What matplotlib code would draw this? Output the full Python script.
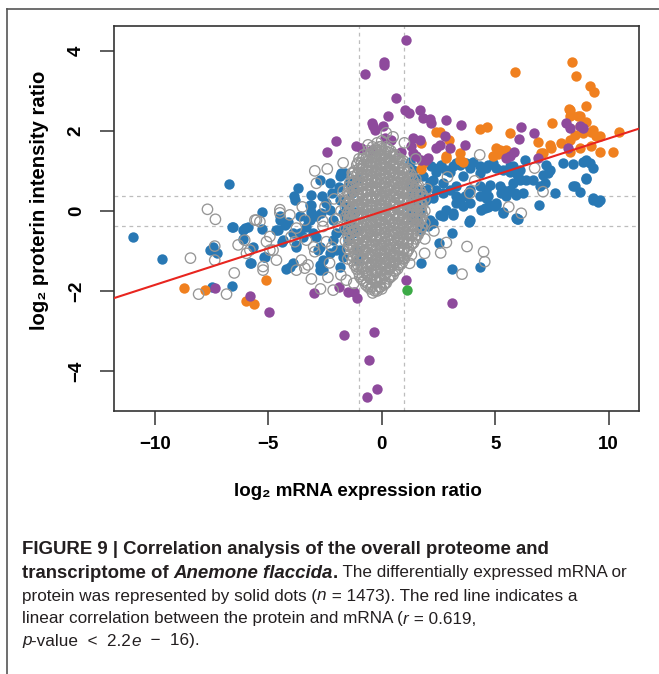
import matplotlib
matplotlib.use("Agg")
import matplotlib.pyplot as plt
from matplotlib.lines import Line2D

plt.rcParams['font.family'] = ['Liberation Sans', 'DejaVu Sans']

# ---- data (log2 mRNA ratio, log2 protein ratio) ----
blue_x = [-10.95, -9.68, -7.5, -6.58, -6.73, -7.43, -7.58, -7.28, -6.62, -6.11, -5.89, -6.11, -6.55, -6.04,
          -5.27, -5.27, -5.67, -5.81, -5.18, -5.74, -4.39, -4.2, -3.8, -3.91, -4.35, -5.15,
          -3.69, -2.73, -1.78, -3.86, -3.83, -3.1, -2.63, -3.13, -2.29, -1.85, -1.63,
          -4.49, -4.64, -3.61, -3.17, -3.61, -3.03, -2.14, -1.7, -1.41, -1.11, -3.17, -3.1, -3.25, -2.88,
          -2.66, -2.29, -4.49, -4.57, -4.27, -4.13, -3.91, -3.32, -2.88, -3.47,
          -2.8, -2.73, -2.59, -1.85, -2.14, -3.76, -2.73, -2.59, -2.29, -2.0, -1.7, -1.85, -2.73, -4.05,
          -2.0, -1.7, -1.48, -1.85, -1.56, -1.63, -1.41, -1.26, -1.11, -1.04, -1.19, -1.2, -1.45, -1.1,
          -1.3, -2.2, -2.45, -1.9,
          1.75, 3.11, 4.35, 2.52, 3.1, 3.85, 5.34, 5.98, 6.93, 4.39, 4.68, 4.98, 3.14, 2.26, 2.04, 9.31, 9.53,
          7.99, 8.43, 8.87, 9.16, 9.02, 8.5, 8.72, 7.62, 7.26, 7.33, 7.18, 6.96, 6.67, 6.37, 5.93, 5.64,
          6.0, 6.22, 5.79, 5.2, 5.27, 4.76, 4.68, 4.61, 4.9, 4.32, 3.88, 3.29, 3.0, 2.48, 2.26, 1.82,
          1.23, 1.38, 1.16, 1.97, 2.41, 2.7, 3.29, 3.58, 3.8, 3.44, 3.14, 2.7, 2.11, 3.88, 5.05, 5.79,
          6.08, 9.31, 9.02, 8.43, 9.31, 9.6, 6.08, 5.86, 5.34, 6.3, 7.4, 7.11, 9.02,
          1.23, 1.38, 1.45, 1.31, 1.53, 2.19, 2.41, 2.63, 2.85, 3.14, 3.44, 3.73, 4.02, 4.32, 4.68, 5.05,
          5.34, 5.64, 6.0, 5.64, 5.93, 5.49, 5.05, 4.76, 4.61, 4.32, 4.61, 4.32, 3.88, 3.66, 3.29, 3.0,
          2.7, 2.26, 2.11, 1.97, 1.67, 1.53, 1.75, 2.56, 2.85, 3.29, 3.58, 3.88, 5.34, 5.93, 4.54,
          1.3, 1.6, 1.4, 1.7]
blue_y = [-0.64, -1.21, -1.91, -1.88, 0.67, -0.89, -0.98, -1.04, -0.39, -0.48, -0.41, -0.71, -0.39, -0.43,
          -0.03, -0.45, -0.89, -1.31, -1.14, -1.31, -0.77, -1.46, -0.85, -1.31, -0.73, -1.14,
          0.58, 0.78, 0.94, 0.36, 0.28, 0.4, 0.38, 0.15, 0.69, 0.86, 0.94,
          -0.14, -0.48, -0.14, -0.23, -0.56, -0.56, -0.23, -0.06, -0.56, -0.48, 0.15, -0.02, -0.23, -0.14,
          -0.06, 0.03, -0.23, -0.48, -0.35, -0.27, -0.56, -0.39, -0.64, -0.64,
          -0.98, -1.35, -1.48, -0.98, -0.73, -0.89, -0.89, -1.23, -1.06, -0.98, -1.14, -1.39, -1.48, -1.39,
          -0.56, -0.48, -0.73, 0.28, 0.11, -0.14, -0.31, -0.56, -0.98, -1.23, -0.02, 0.55, 0.7, 0.8,
          0.45, 0.45, 0.2, 0.6,
          -1.31, -1.46, -1.39, -0.81, -0.54, -0.27, -0.03, -0.21, 0.15, 0.01, 0.09, 0.13, -0.1, -0.31, -0.38, 0.28, 0.23,
          1.19, 1.18, 1.23, 1.19, 0.79, 0.61, 0.48, 0.44, 1.15, 0.94, 0.69, 0.61, 0.78, 0.78, 0.94, 1.11,
          -0.2, 0.44, 0.69, 0.61, 0.44, 0.65, 0.36, 1.07, 1.19, 0.94, 1.07, 1.19, 0.98, 1.07, 0.78, 0.86,
          0.69, 0.4, 0.11, 0.28, 0.53, 0.44, 0.61, 0.86, 0.44, 0.19, -0.06, -0.14, -0.23, -0.23, 0.15, 1.11,
          1.03, 1.07, 0.82, 0.61, 0.32, 0.28, 0.78, 0.44, 0.53, 1.28, 1.03, 0.9, 1.28,
          1.23, 1.03, 0.82, 0.61, 0.53, 1.11, 0.98, 1.15, 1.03, 1.11, 1.15, 1.19, 1.23, 1.11, 1.15, 1.07,
          1.03, 0.98, 0.86, 0.53, 0.4, 0.36, 0.19, 0.15, 0.32, 0.36, 0.53, 0.61, 0.53, 0.36, 0.36, 0.53,
          0.69, 0.32, 0.73, 0.53, 0.36, 0.15, -0.02, -0.1, 0.03, 0.19, 0.11, 0.19, -0.06, -0.18, 0.07,
          -0.1, -0.25, -0.2, -0.45]

orange_x = [-8.72, -7.78, -5.99, -5.64, -5.08,
            5.89, 8.38, 8.58, 9.16, 9.34, 8.24, 8.31, 9.02, 8.72, 9.02, 8.65, 7.52, 4.35, 4.64, 5.64,
            2.41, 2.56, 2.95, 1.75, 2.82, 3.47, 3.58, 2.85, 5.05, 5.49, 5.12, 4.9, 5.42, 6.89, 7.4,
            7.48, 7.11, 7.04, 7.92, 8.28, 8.5, 8.87, 9.24, 9.6, 10.48, 8.28, 8.72, 9.24, 9.6, 10.19,
            1.82, 1.75, 9.31, 9.46, 8.87, 5.2, 8.28, 8.36, 8.72, 3.47]
orange_y = [-1.92, -1.98, -2.24, -2.33, -1.73,
            3.48, 3.71, 3.36, 3.13, 2.96, 2.54, 2.36, 2.63, 2.36, 2.23, 2.36, 2.19, 2.04, 2.09, 1.94,
            1.96, 1.98, 1.78, 1.69, 1.36, 1.44, 1.23, 1.32, 1.58, 1.53, 1.42, 1.36, 1.42, 1.73, 1.65,
            1.57, 1.44, 1.44, 1.69, 1.78, 1.9, 1.94, 1.98, 1.86, 1.96, 1.48, 1.57, 1.61, 1.48, 1.48,
            1.19, 1.04, 2.03, 1.88, 1.98, 1.53, 2.53, 2.4, 2.11, 1.28]

purple_x = [1.06, 0.09, 0.09, -0.72, 0.65, 1.01, 1.19, 1.67, 1.82, 2.11, 2.19, 2.82, 3.51, 0.28, -0.38,
            0.06, -0.45, -0.31, -2.03, -2.39, -1.12, -0.9, -0.45, 0.13, 0.43, 0.84, 1.38, 1.67, 1.38,
            1.53, 1.75, 1.97, 2.41, 2.56, 2.78, 3.0, 3.66, 1.31, 2.04, 6.15, 6.05, 6.7, 5.81, 5.64, 5.49,
            8.14, 8.28, 8.72, 8.87, 8.21, 6.89,
            -7.36, -5.8, -4.96, -2.97, -1.88, -1.48, -1.23, -1.09, -1.66, -0.34, -0.57, -0.67, -0.23,
            1.06, 3.11]
purple_y = [4.26, 3.73, 3.65, 3.42, 2.82, 2.51, 2.44, 2.53, 2.32, 2.29, 2.19, 2.28, 2.15, 2.36, 2.11,
            2.13, 2.19, 2.03, 1.75, 1.47, 1.63, 1.58, 1.53, 1.82, 1.76, 1.48, 1.82, 1.78, 1.44,
            1.36, 1.28, 1.28, 1.57, 1.65, 1.86, 1.57, 1.65, 1.61, 1.32, 2.09, 1.79, 1.94, 1.48, 1.38, 1.32,
            2.19, 2.07, 2.11, 2.07, 1.57, 1.32,
            -1.92, -2.12, -2.53, -2.06, -1.91, -2.03, -2.03, -2.17, -3.1, -3.03, -3.73, -4.64, -4.46,
            -1.73, -2.31]

green_x = [1.11]
green_y = [-1.98]

# grey = not differentially expressed, scattered part
grey_x = [-8.43, -8.07, -6.84, -7.36, -7.36, -7.68, -7.33, -6.33, -5.96, -5.08, -5.23, -4.79, -3.39, -3.76,
          -2.37, -2.14, -1.56, -1.23, -2.95, -0.9, -4.49, -5.52, -5.37, -5.59, -4.05, -3.76, -3.39, -3.83,
          -4.93, -6.04, -5.81, -4.93, -4.64, -5.23, -3.54, -3.25, -2.95, -1.11, -0.97, -2.59, -2.44, -4.49,
          -3.32, -2.88,
          3.54, 4.49, 4.54, 3.76, 2.85, 1.89, 1.31, 1.23, 0.13, -0.31, 0.94, 0.21, 0.35, 0.65, -0.31,
          -0.23, 6.15, 7.11, 6.74, 4.32, 3.88, 5.6, 4.1, 2.9, 2.3, 2.6, 1.9, 2.0, 1.5,
          -2.2, -1.9, -2.5, -2.1, -1.7, -2.6, -3.0, -2.3, -1.8, -1.5, -1.4, -1.8, -2.0, -1.6, -1.4, -1.3,
          -1.7, -2.4, -3.5, -4.0, -3.1, -2.7, -6.5, 0.5, 1.0, 0.2, -0.6]
grey_y = [-1.18, -2.08, -2.08, -0.88, -1.23, 0.04, -0.21, -0.85, -1.06, -0.77, -1.48, -0.98, -1.43, -1.48,
          -1.66, -1.98, -1.73, -1.81, 1.0, 1.03, -0.05, -0.23, -0.27, -0.23, -0.1, -0.43, -0.23, -0.77,
          -0.64, -0.73, -0.98, -0.98, -1.23, -1.39, -1.23, -1.35, -1.02, -1.39, -1.64, -0.39, -0.77, 0.03,
          -0.73, 0.69,
          -1.58, -1.02, -1.27, -0.89, -0.79, -1.06, -1.1, -1.31, -1.81, -1.68, -1.18, 1.36, 1.19, 1.23, 1.4,
          1.11, -0.06, 0.48, 1.07, 1.4, 0.44, 0.1, 0.75, 0.85, -0.5, -1.05, -0.7, 0.55, 1.3,
          -0.9, -0.4, 0.1, 0.3, 0.5, -0.25, -0.9, -1.3, -1.6, -1.2, -0.9, 0.0, -0.2, 0.25, -0.2, 0.95,
          1.2, 1.05, 0.1, -0.65, -1.7, -1.95, -1.55, 1.85, 1.7, 1.95, 1.65]

# grey dense core, read as columns: x position -> protein ratios in that column
core_cols = [-1.5, -1.3, -1.1, -0.9, -0.7, -0.5, -0.3, -0.1, 0.1, 0.3, 0.5, 0.7, 0.9, 1.1, 1.3, 1.5, 1.7, 1.9]
core_vals = [
    [-0.95, -0.6, -0.3, -0.05, 0.2, 0.45],
    [-1.25, -0.9, -0.65, -0.4, -0.15, 0.1, 0.35, 0.6, 0.85],
    [-1.45, -1.15, -0.85, -0.6, -0.35, -0.1, 0.15, 0.4, 0.65, 0.9, 1.15],
    [-1.7, -1.4, -1.1, -0.85, -0.55, -0.3, -0.05, 0.2, 0.45, 0.7, 0.95, 1.2],
    [-1.85, -1.55, -1.3, -1.0, -0.75, -0.5, -0.2, 0.05, 0.3, 0.55, 0.8, 1.05, 1.3],
    [-1.95, -1.7, -1.4, -1.15, -0.9, -0.6, -0.35, -0.1, 0.15, 0.4, 0.65, 0.9, 1.15, 1.4],
    [-2.0, -1.75, -1.5, -1.25, -1.0, -0.75, -0.5, -0.25, 0.0, 0.25, 0.5, 0.75, 1.0, 1.25, 1.5],
    [-1.9, -1.65, -1.35, -1.1, -0.85, -0.6, -0.35, -0.1, 0.15, 0.4, 0.65, 0.9, 1.15, 1.4, 1.6],
    [-1.85, -1.6, -1.3, -1.05, -0.8, -0.55, -0.3, -0.05, 0.2, 0.45, 0.7, 0.95, 1.2, 1.45],
    [-1.7, -1.45, -1.2, -0.95, -0.7, -0.45, -0.2, 0.05, 0.3, 0.55, 0.8, 1.05, 1.3, 1.55],
    [-1.6, -1.35, -1.1, -0.85, -0.6, -0.35, -0.1, 0.15, 0.4, 0.65, 0.9, 1.15, 1.4],
    [-1.45, -1.2, -0.95, -0.7, -0.45, -0.2, 0.05, 0.3, 0.55, 0.8, 1.05, 1.3],
    [-1.3, -1.05, -0.8, -0.55, -0.3, -0.05, 0.2, 0.45, 0.7, 0.95, 1.2],
    [-1.05, -0.8, -0.55, -0.3, -0.05, 0.2, 0.45, 0.7, 0.95],
    [-0.85, -0.6, -0.35, -0.1, 0.15, 0.4, 0.65, 0.9],
    [-0.7, -0.45, -0.2, 0.05, 0.3, 0.55, 0.8],
    [-0.5, -0.25, 0.0, 0.25, 0.5],
    [-0.3, 0.0, 0.3],
]
core_cols2 = [-1.6, -1.4, -1.2, -1.0, -0.8, -0.6, -0.4, -0.2, 0.0, 0.2, 0.4, 0.6, 0.8, 1.0, 1.2, 1.4, 1.6, 1.8]
core_vals2 = [
    [-0.75, -0.45, -0.15, 0.1, 0.35],
    [-1.1, -0.8, -0.55, -0.3, -0.05, 0.2, 0.45, 0.7],
    [-1.35, -1.05, -0.75, -0.5, -0.25, 0.0, 0.25, 0.5, 0.75, 1.0],
    [-1.55, -1.25, -0.95, -0.7, -0.45, -0.2, 0.05, 0.3, 0.55, 0.8, 1.05, 1.3],
    [-1.75, -1.45, -1.2, -0.9, -0.65, -0.4, -0.1, 0.15, 0.4, 0.65, 0.9, 1.15, 1.4],
    [-1.9, -1.6, -1.3, -1.05, -0.8, -0.5, -0.25, 0.0, 0.25, 0.5, 0.75, 1.0, 1.25, 1.5],
    [-2.05, -1.85, -1.6, -1.35, -1.1, -0.85, -0.6, -0.35, -0.1, 0.1, 0.35, 0.6, 0.85, 1.1, 1.35, 1.6],
    [-2.0, -1.75, -1.5, -1.25, -1.0, -0.7, -0.45, -0.2, 0.05, 0.3, 0.55, 0.8, 1.05, 1.3, 1.5, 1.7],
    [-1.95, -1.7, -1.45, -1.2, -0.95, -0.7, -0.45, -0.2, 0.05, 0.3, 0.55, 0.8, 1.05, 1.3, 1.55, 1.75],
    [-1.8, -1.55, -1.3, -1.1, -0.9, -0.65, -0.4, -0.15, 0.1, 0.35, 0.6, 0.85, 1.1, 1.35, 1.6],
    [-1.65, -1.4, -1.15, -0.95, -0.75, -0.5, -0.25, 0.0, 0.25, 0.5, 0.75, 1.0, 1.25, 1.5],
    [-1.5, -1.25, -1.05, -0.8, -0.55, -0.3, -0.05, 0.2, 0.45, 0.7, 0.95, 1.2, 1.4],
    [-1.35, -1.15, -0.9, -0.65, -0.4, -0.15, 0.1, 0.35, 0.6, 0.85, 1.1, 1.3],
    [-1.2, -0.95, -0.7, -0.45, -0.2, 0.05, 0.3, 0.55, 0.8, 1.05],
    [-0.95, -0.7, -0.45, -0.2, 0.05, 0.3, 0.55, 0.8, 1.0],
    [-0.8, -0.5, -0.25, 0.0, 0.25, 0.5, 0.75],
    [-0.6, -0.35, -0.1, 0.15, 0.4, 0.65],
    [-0.4, -0.1, 0.15, 0.4],
]
core_cols3 = [-1.45, -1.25, -1.05, -0.85, -0.65, -0.45, -0.25, -0.05, 0.15, 0.35, 0.55, 0.75, 0.95, 1.15,
              1.35, 1.55, 1.75]
core_vals3 = [
    [-0.85, -0.65, -0.45, -0.2, 0.0, 0.2, 0.4, 0.6],
    [-1.15, -0.95, -0.75, -0.5, -0.3, -0.1, 0.1, 0.3, 0.5, 0.7, 0.95],
    [-1.35, -1.15, -0.95, -0.7, -0.5, -0.3, -0.1, 0.1, 0.3, 0.55, 0.75, 0.95, 1.2],
    [-1.6, -1.4, -1.2, -1.0, -0.8, -0.6, -0.35, -0.15, 0.05, 0.25, 0.45, 0.65, 0.85, 1.05, 1.3],
    [-1.8, -1.6, -1.4, -1.2, -0.95, -0.75, -0.55, -0.35, -0.15, 0.1, 0.3, 0.5, 0.7, 0.9, 1.1, 1.35],
    [-1.9, -1.7, -1.5, -1.3, -1.1, -0.85, -0.65, -0.45, -0.25, -0.05, 0.15, 0.35, 0.55, 0.8, 1.0, 1.2, 1.45],
    [-1.95, -1.75, -1.55, -1.35, -1.15, -0.95, -0.7, -0.5, -0.3, -0.1, 0.1, 0.3, 0.5, 0.7, 0.95, 1.15, 1.35,
     1.55],
    [-1.9, -1.7, -1.5, -1.3, -1.05, -0.85, -0.65, -0.45, -0.25, -0.05, 0.15, 0.35, 0.6, 0.8, 1.0, 1.2, 1.4,
     1.6],
    [-1.8, -1.6, -1.4, -1.2, -1.0, -0.75, -0.55, -0.35, -0.15, 0.05, 0.25, 0.5, 0.7, 0.9, 1.1, 1.3, 1.5],
    [-1.65, -1.45, -1.25, -1.05, -0.85, -0.6, -0.4, -0.2, 0.0, 0.2, 0.4, 0.6, 0.85, 1.05, 1.25, 1.45],
    [-1.5, -1.3, -1.1, -0.9, -0.7, -0.5, -0.3, -0.05, 0.15, 0.35, 0.55, 0.75, 0.95, 1.15, 1.35],
    [-1.35, -1.15, -0.95, -0.75, -0.55, -0.35, -0.1, 0.1, 0.3, 0.5, 0.7, 0.9, 1.1, 1.3],
    [-1.2, -1.0, -0.8, -0.6, -0.4, -0.15, 0.05, 0.25, 0.45, 0.65, 0.85, 1.05, 1.25],
    [-1.0, -0.8, -0.6, -0.4, -0.2, 0.0, 0.25, 0.45, 0.65, 0.85, 1.05],
    [-0.8, -0.6, -0.4, -0.2, 0.0, 0.2, 0.4, 0.6, 0.8],
    [-0.6, -0.4, -0.2, 0.0, 0.2, 0.4, 0.6],
    [-0.4, -0.2, 0.0, 0.2, 0.4],
]

fit_slope = 0.183
fit_intercept = -0.02
mrna_cut = 1.0
prot_cut = 0.378

xticks = [-10, -5, 0, 5, 10]
yticks = [-4, -2, 0, 2, 4]

# build core arrays
core_x, core_y = [], []
for cx, vals in zip(core_cols + core_cols2 + core_cols3, core_vals + core_vals2 + core_vals3):
    for v in vals:
        core_x.append(cx)
        core_y.append(v)

W, H = 659, 674
fig = plt.figure(figsize=(W / 100, H / 100), dpi=100)
ax = fig.add_axes([114 / W, 1 - 411 / H, (639 - 114) / W, (411 - 26) / H])

ms = 56
dash = dict(color='#bdbdbd', ls=(0, (3, 3)), lw=0.9, zorder=1)
ax.axvline(-mrna_cut, **dash)
ax.axvline(mrna_cut, **dash)
ax.axhline(-prot_cut, **dash)
ax.axhline(prot_cut, **dash)

ax.scatter(blue_x, blue_y, s=ms, color='#2878b4', lw=0, zorder=2)
ax.scatter(orange_x, orange_y, s=ms, color='#f0801f', lw=0, zorder=2)
ax.scatter(purple_x, purple_y, s=ms, color='#8e4a9c', lw=0, zorder=2)
ax.scatter(green_x, green_y, s=ms, color='#3caa46', lw=0, zorder=2)
ax.scatter(grey_x + core_x, grey_y + core_y, s=ms, facecolor='none', edgecolor='#969696',
           lw=0.95, zorder=3)

ax.axline((0, fit_intercept), slope=fit_slope, color='#e8251f', lw=1.5, zorder=5)

ax.set_xlim(-11.8, 11.34)
ax.set_ylim(-5.0, 4.62)
ax.set_xticks(xticks)
ax.set_yticks(yticks)
ax.tick_params(direction='out', length=10, width=1.1, color='#333333', labelsize=13.5)
ax.tick_params(axis='x', pad=8)
ax.tick_params(axis='y', pad=11)
for lab in ax.get_xticklabels() + ax.get_yticklabels():
    lab.set_fontweight('bold')
for lab in ax.get_yticklabels():
    lab.set_rotation(90)
    lab.set_va('center')
for sp in ax.spines.values():
    sp.set_color('#333333')
    sp.set_linewidth(1.2)

fig.text(40 / W, 1 - 200 / H, 'log\u2082 proterin intensity ratio', rotation=90,
         ha='center', va='center', fontsize=14.6, fontweight='bold')
fig.text(358 / W, 1 - 492 / H, 'log\u2082 mRNA expression ratio',
         ha='center', va='center', fontsize=13.5, fontweight='bold')

# outer figure frame (top and left edges)
fig.add_artist(Line2D([7 / W, 1], [1 - 9 / H, 1 - 9 / H], color='#555555', lw=1.2))
fig.add_artist(Line2D([7 / W, 7 / W], [0, 1 - 9 / H], color='#555555', lw=1.2))

# caption
renderer = fig.canvas.get_renderer()
size_bold = 13.4
size_reg = 12.3
lines = [
    [('FIGURE 9 | Correlation analysis of the overall proteome and', 'bold', 'normal')],
    [('transcriptome of ', 'bold', 'normal'), ('Anemone flaccida', 'bold', 'italic'), ('.', 'bold', 'normal'),
     (' The differentially expressed mRNA or', 'normal', 'normal')],
    [('protein was represented by solid dots (', 'normal', 'normal'), ('n', 'normal', 'italic'),
     (' = 1473). The red line indicates a', 'normal', 'normal')],
    [('linear correlation between the protein and mRNA (', 'normal', 'normal'), ('r', 'normal', 'italic'),
     (' = 0.619,', 'normal', 'normal')],
    [('p', 'normal', 'italic'), ('-value  <  2.2', 'normal', 'normal'), ('e', 'normal', 'italic'),
     ('  \u2212  16).', 'normal', 'normal')],
]
line_y = [550, 573, 596, 619, 641]
for parts, ly in zip(lines, line_y):
    x = 22 / W
    for txt, wt, st in parts:
        t = fig.text(x, 1 - ly / H, txt, fontsize=size_bold if wt == 'bold' else size_reg,
                     fontweight=wt, fontstyle=st, ha='left', va='center', color='#231f20')
        bb = t.get_window_extent(renderer)
        x += bb.width / W

fig.savefig('out.png', dpi=100)
